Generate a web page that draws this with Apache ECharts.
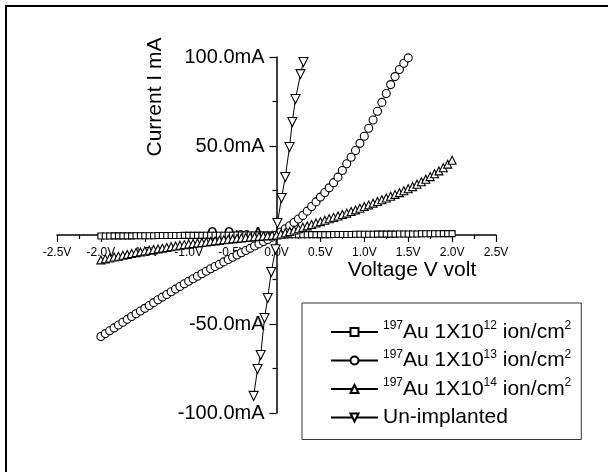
<!DOCTYPE html>
<html>
<head>
<meta charset="utf-8">
<script src="https://cdn.jsdelivr.net/npm/echarts@6/dist/echarts.min.js"></script>
<style>
  html, body { margin: 0; padding: 0; background: #fff; }
  #chart { width: 608px; height: 472px; }
</style>
</head>
<body>
<div id="chart"></div>
<script>
// voltage sweep (V), step 0.05
const voltSweep = [
  -2, -1.95, -1.9, -1.85, -1.8, -1.75, -1.7, -1.65, -1.6, -1.55,
  -1.5, -1.45, -1.4, -1.35, -1.3, -1.25, -1.2, -1.15, -1.1, -1.05,
  -1, -0.95, -0.9, -0.85, -0.8, -0.75, -0.7, -0.65, -0.6, -0.55,
  -0.5, -0.45, -0.4, -0.35, -0.3, -0.25, -0.2, -0.15, -0.1, -0.05,
  0,
  0.05, 0.1, 0.15, 0.2, 0.25, 0.3, 0.35, 0.4, 0.45, 0.5,
  0.55, 0.6, 0.65, 0.7, 0.75, 0.8, 0.85, 0.9, 0.95, 1,
  1.05, 1.1, 1.15, 1.2, 1.25, 1.3, 1.35, 1.4, 1.45, 1.5,
  1.55, 1.6, 1.65, 1.7, 1.75, 1.8, 1.85, 1.9, 1.95, 2
]

// current (mA) - 197Au 1X10^12
const au12 = [
  -0.6, -0.6, -0.6, -0.5, -0.5, -0.5, -0.5, -0.5, -0.4, -0.4,
  -0.4, -0.4, -0.4, -0.3, -0.3, -0.3, -0.3, -0.3, -0.3, -0.2,
  -0.2, -0.2, -0.2, -0.2, -0.1, -0.1, -0.1, -0.1, -0.1, -0.1,
  -0.1, 0, 0, 0, 0, 0, 0, 0, 0, 0,
  0,
  0, 0, 0.1, 0.1, 0.1, 0.1, 0.1, 0.2, 0.2, 0.2,
  0.2, 0.2, 0.3, 0.3, 0.3, 0.3, 0.3, 0.4, 0.4, 0.4,
  0.4, 0.4, 0.5, 0.5, 0.5, 0.5, 0.5, 0.6, 0.6, 0.6,
  0.6, 0.6, 0.7, 0.7, 0.7, 0.7, 0.7, 0.8, 0.8, 0.8
]

// current (mA) - 197Au 1X10^13 (sweep stops at 1.5V)
const au13 = [
  -57.0, -55.4, -53.8, -52.2, -50.6, -49.0, -47.4, -45.8, -44.2, -42.7,
  -41.2, -39.6, -38.0, -36.4, -34.9, -33.4, -31.9, -30.4, -28.9, -27.4,
  -26.0, -24.6, -23.2, -21.8, -20.4, -19.0, -17.7, -16.4, -15.1, -13.8,
  -12.5, -11.2, -10.0, -8.7, -7.5, -6.2, -5.0, -3.7, -2.5, -1.2,
  0,
  1.7, 3.5, 5.2, 7.0, 9.0, 11.0, 13.4, 16.0, 18.6, 21.3,
  23.9, 26.5, 29.4, 32.5, 36.2, 40.0, 43.7, 47.5, 51.5, 55.5,
  60.0, 64.6, 69.5, 74.5, 79.5, 84.5, 89.0, 93.0, 96.5, 99.5
]

// current (mA) - 197Au 1X10^14
const au14 = [
  -14.0, -13.4, -12.9, -12.4, -11.9, -11.4, -10.9, -10.4, -9.9, -9.5,
  -9.0, -8.6, -8.2, -7.8, -7.4, -7.0, -6.6, -6.2, -5.8, -5.4,
  -5.1, -4.8, -4.5, -4.2, -3.9, -3.6, -3.3, -3.0, -2.7, -2.4,
  -2.2, -1.9, -1.7, -1.4, -1.2, -1.0, -0.8, -0.6, -0.4, -0.2,
  0,
  0.6, 1.3, 2.0, 2.8, 3.5, 4.3, 5.1, 5.9, 6.7, 7.5,
  8.3, 9.1, 9.9, 10.7, 11.5, 12.3, 13.2, 14.1, 15.0, 16.0,
  16.9, 17.9, 18.8, 19.8, 20.8, 21.8, 22.8, 23.8, 24.9, 26.0,
  27.2, 28.5, 29.9, 31.3, 32.8, 34.4, 36.0, 37.8, 39.8, 42.0
]

// un-implanted sample
const unVolt = [-0.26, -0.216, -0.18, -0.136, -0.1, -0.06, -0.011, 0.011, 0.057, 0.1, 0.148, 0.18, 0.216, 0.273, 0.307]
const unCurr = [-90.4, -75.3, -67.4, -46.6, -35.4, -20.8, -8.0, 6.7, 20.8, 32.6, 49.4, 63.5, 76.4, 90.4, 97.2]

const seriesNames = ['Au12', 'Au13', 'Au14', 'Un-implanted']
const legendText = {
  'Au12': '{sup|197}Au 1X10{sup|12} ion/cm{sup|2}',
  'Au13': '{sup|197}Au 1X10{sup|13} ion/cm{sup|2}',
  'Au14': '{sup|197}Au 1X10{sup|14} ion/cm{sup|2}',
  'Un-implanted': 'Un-implanted'
}

const FONT = '"Liberation Sans", Arial, sans-serif'

function pairs(xs, ys) {
  return ys.map((y, i) => [xs[i], y])
}

function lineSeries(name, data, symbol, size, rotate) {
  return {
    name: name,
    type: 'line',
    data: data,
    symbol: symbol,
    symbolSize: size,
    symbolRotate: rotate || 0,
    showAllSymbol: true,
    lineStyle: { color: '#000', width: 1 },
    itemStyle: { color: '#fff', borderColor: '#000', borderWidth: 1.1 },
    emphasis: { disabled: true }
  }
}

const chart = echarts.init(document.getElementById('chart'), null, { renderer: 'canvas' })

// grid is 439 x 356 px; axes cross at zero in the middle
chart.setOption({
  animation: false,
  backgroundColor: '#fff',
  textStyle: { fontFamily: FONT },
  grid: {
    left: 57,
    right: 112,
    top: 57,
    bottom: 59,
    containLabel: false,
    outerBoundsMode: 'none'
  },
  xAxis: {
    type: 'value',
    min: -2.5,
    max: 2.5,
    interval: 0.5,
    offset: -178,
    axisLine: { onZero: false, lineStyle: { color: '#000', width: 1.5 } },
    axisTick: { show: true, length: 7, lineStyle: { color: '#000', width: 1.2 } },
    minorTick: { show: true, splitNumber: 2, length: 4, lineStyle: { color: '#000', width: 1.2 } },
    splitLine: { show: false },
    axisLabel: {
      color: '#000',
      fontSize: 12,
      fontFamily: FONT,
      margin: 12,
      formatter: v => v.toFixed(1) + 'V'
    }
  },
  yAxis: {
    type: 'value',
    min: -100,
    max: 100,
    interval: 50,
    offset: -219.5,
    axisLine: { onZero: false, lineStyle: { color: '#000', width: 1.5 } },
    axisTick: { show: true, length: 7, lineStyle: { color: '#000', width: 1.2 } },
    minorTick: { show: true, splitNumber: 2, length: 4, lineStyle: { color: '#000', width: 1.2 } },
    splitLine: { show: false },
    axisLabel: {
      color: '#000',
      fontSize: 20,
      fontFamily: FONT,
      margin: 12,
      formatter: v => v.toFixed(1) + 'mA'
    }
  },
  legend: {
    data: seriesNames,
    orient: 'vertical',
    left: 302,
    top: 303,
    padding: [17, 10, 10, 28],
    itemGap: 4.5,
    itemWidth: 47,
    itemHeight: 10,
    borderColor: '#333',
    borderWidth: 1,
    backgroundColor: '#fff',
    selectedMode: false,
    formatter: name => legendText[name],
    textStyle: {
      color: '#000',
      fontSize: 21,
      fontFamily: FONT,
      lineHeight: 24,
      rich: {
        sup: { fontSize: 12, lineHeight: 12, verticalAlign: 'top', fontFamily: FONT, color: '#000' }
      }
    }
  },
  graphic: [
    {
      type: 'rect',
      shape: { x: 6, y: 6, width: 700, height: 600 },
      style: { fill: 'none', stroke: '#000', lineWidth: 2 },
      silent: true
    },
    {
      type: 'text',
      x: 155,
      y: 97,
      rotation: Math.PI / 2,
      style: { text: 'Current I mA', font: '21px ' + FONT, fill: '#000', align: 'center', verticalAlign: 'middle' }
    },
    {
      type: 'text',
      x: 412,
      y: 270,
      style: { text: 'Voltage V volt', font: '21px ' + FONT, fill: '#000', align: 'center', verticalAlign: 'middle' }
    }
  ],
  series: [
    lineSeries('Au12', pairs(voltSweep, au12), 'rect', 6),
    lineSeries('Au13', pairs(voltSweep, au13), 'circle', 8),
    lineSeries('Au14', pairs(voltSweep, au14), 'triangle', 8),
    lineSeries('Un-implanted', pairs(unVolt, unCurr), 'triangle', 9, 180)
  ]
})
</script>
</body>
</html>
